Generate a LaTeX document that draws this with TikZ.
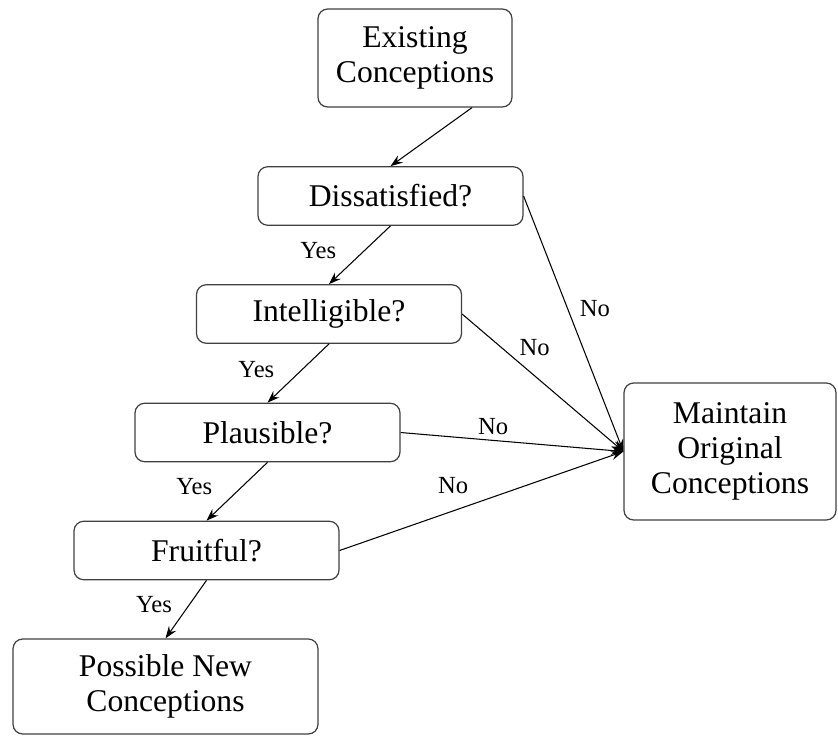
\documentclass[tikz,border=0pt]{standalone}
\usepackage{fontspec}
\setmainfont{Liberation Serif}
\usepackage{tikz}
\usetikzlibrary{arrows.meta,calc}

\tikzset{
  cbox/.style={draw=black!75, line width=0.7pt, rounded corners=5.5pt, align=center,
    font=\fontsize{18}{20}\selectfont, inner sep=2pt},
  qbox/.style={cbox, minimum width=5.3cm, minimum height=1.17cm},
  lbl/.style={font=\fontsize{14}{16}\selectfont, inner sep=1pt},
  flow/.style={-{Stealth[length=7pt,width=5pt,inset=2.5pt]}, line width=0.6pt}
}

\begin{document}
\begin{tikzpicture}[x=0.02cm,y=-0.02cm]
\useasboundingbox (0,0) rectangle (838,735);

% boxes
\node[cbox, minimum width=3.88cm, minimum height=1.96cm] (exist) at (415,58) {Existing\\Conceptions};
\node[qbox] (diss) at (390.5,196) {Dissatisfied?};
\node[qbox] (intel) at (329,314) {Intelligible?};
\node[qbox] (plaus) at (267.5,432.5) {Plausible?};
\node[qbox] (fruit) at (206.5,550.5) {Fruitful?};
\node[cbox, minimum width=6.1cm, minimum height=1.9cm] (poss) at (165.5,686.5) {Possible New\\Conceptions};
\node[cbox, minimum width=4.24cm, minimum height=2.74cm] (maint) at (730,451.5) {Maintain\\Original\\Conceptions};

% yes path
\draw[flow] ($(exist.south)+(57,0)$) -- (diss.north);
\draw[flow] (diss.south) -- node[lbl, pos=0.43, left=14.6pt] (yes1) {Yes} (intel.north);
\draw[flow] (intel.south) -- node[lbl, pos=0.43, left=14.8pt] (yes2) {Yes} (plaus.north);
\draw[flow] (plaus.south) -- node[lbl, pos=0.41, left=16pt] (yes3) {Yes} (fruit.north);
\draw[flow] (fruit.south) -- node[lbl, pos=0.41, left=8.8pt] (yes4) {Yes} (poss.north);

% no path
\draw[flow] (diss.east) -- node[lbl, pos=0.44, right=5.7pt] (no1) {No} (maint.west);
\draw[flow] (intel.east) -- node[lbl, pos=0.45, above=10pt] (no2) {No} (maint.west);
\draw[flow] (plaus.east) -- node[lbl, pos=0.415, above=2pt] (no3) {No} (maint.west);
\draw[flow] (fruit.east) -- node[lbl, pos=0.4, above=8.5pt] (no4) {No} (maint.west);
\end{tikzpicture}
\end{document}
